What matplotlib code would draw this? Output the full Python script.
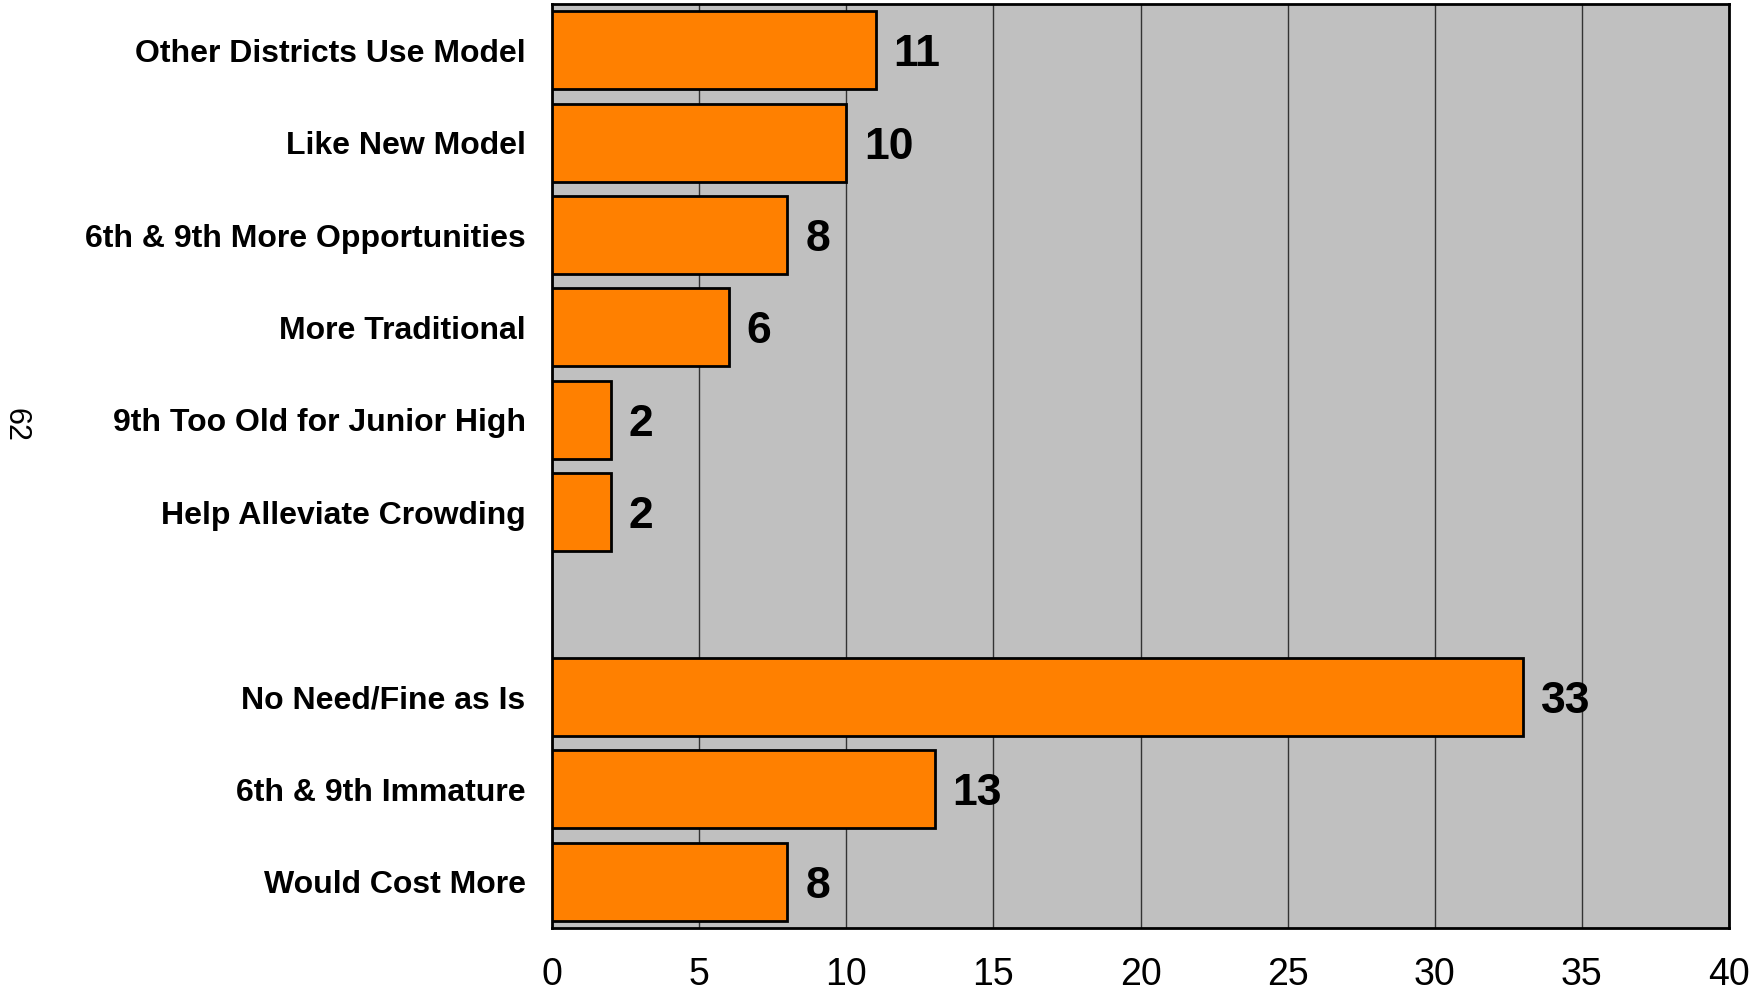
import matplotlib.pyplot as plt

# categories top to bottom; empty string = gap between the two groups
labels = ['Other Districts Use Model', 'Like New Model', '6th & 9th More Opportunities',
          'More Traditional', '9th Too Old for Junior High', 'Help Alleviate Crowding',
          '', 'No Need/Fine as Is', '6th & 9th Immature', 'Would Cost More']
values = [11, 10, 8, 6, 2, 2, None, 33, 13, 8]
xticks = [0, 5, 10, 15, 20, 25, 30, 35, 40]

plt.rcParams['font.family'] = ['Liberation Sans', 'DejaVu Sans']

fig = plt.figure(figsize=(17.52, 9.94), dpi=100)
ax = fig.add_axes([552 / 1752, 1 - 928 / 994, (1729 - 552) / 1752, (928 - 4) / 994])
ax.set_facecolor('#c0c0c0')

pos = list(range(len(labels)))
for i, v in enumerate(values):
    if v is None:
        continue
    ax.barh(i, v, height=0.845, color='#ff8000', edgecolor='black', linewidth=2, zorder=3)
    ax.annotate(str(v), (v, i), xytext=(13, 0), textcoords='offset points',
                ha='left', va='center_baseline', fontsize=32, fontweight='bold', zorder=4)

ax.set_xlim(0, 40)
ax.set_ylim(len(labels) - 0.5, -0.5)
ax.set_xticks(xticks)
ax.set_xticklabels([str(t) for t in xticks], fontsize=27)
ax.set_yticks(pos)
ax.set_yticklabels(labels, fontsize=23, fontweight='bold')
ax.tick_params(axis='both', length=0)
ax.tick_params(axis='x', pad=21)
ax.tick_params(axis='y', pad=19)
ax.grid(axis='x', color='#333333', linewidth=1, zorder=1)
ax.set_axisbelow(True)
for s in ax.spines.values():
    s.set_linewidth(2)
    s.set_color('black')

fig.text(15 / 1752, 1 - 425 / 994, '62', rotation=-90, fontsize=22,
         ha='center', va='center')

fig.savefig('out.png', dpi=100)
